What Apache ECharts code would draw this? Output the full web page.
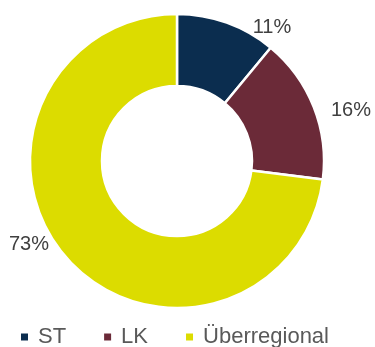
<!DOCTYPE html>
<html>
<head>
<meta charset="utf-8">
<script src="https://cdn.jsdelivr.net/npm/echarts@6/dist/echarts.min.js"></script>
<style>
  html, body { margin: 0; padding: 0; background: #fff; }
  #chart { width: 375px; height: 347px; }
</style>
</head>
<body>
<div id="chart"></div>
<script>
// Share of records by origin
const categories = ['ST', 'LK', 'Überregional'];
const shares = [11, 16, 73];
const sliceColors = ['#0b2d4f', '#6b2a38', '#dcdc00'];

// Where each percentage label sits (label centre, px)
const labelSpots = [[272, 27], [351, 110], [29, 244]];

const chart = echarts.init(document.getElementById('chart'), null, { renderer: 'canvas' });

chart.setOption({
  animation: false,
  color: sliceColors,
  legend: {
    data: categories,
    orient: 'horizontal',
    left: 14,
    top: 321,
    icon: 'rect',
    itemWidth: 9,
    itemHeight: 9,
    itemGap: 36,
    textStyle: {
      fontFamily: 'Liberation Sans, Arial, sans-serif',
      fontSize: 22,
      color: '#595959',
      padding: [0, 0, 0, 4]
    }
  },
  series: [{
    type: 'pie',
    center: [177, 161],
    radius: [75, 147],
    startAngle: 90,
    clockwise: true,
    avoidLabelOverlap: false,
    itemStyle: { borderColor: '#ffffff', borderWidth: 2.5 },
    label: {
      show: true,
      position: 'outside',
      formatter: p => p.value + '%',
      fontFamily: 'Liberation Sans, Arial, sans-serif',
      fontSize: 20,
      color: '#404040'
    },
    labelLine: { show: false },
    labelLayout: p => ({
      x: labelSpots[p.dataIndex][0],
      y: labelSpots[p.dataIndex][1],
      align: 'center',
      verticalAlign: 'middle'
    }),
    emphasis: { disabled: true },
    data: categories.map((name, i) => ({ name: name, value: shares[i] }))
  }]
});
</script>
</body>
</html>
